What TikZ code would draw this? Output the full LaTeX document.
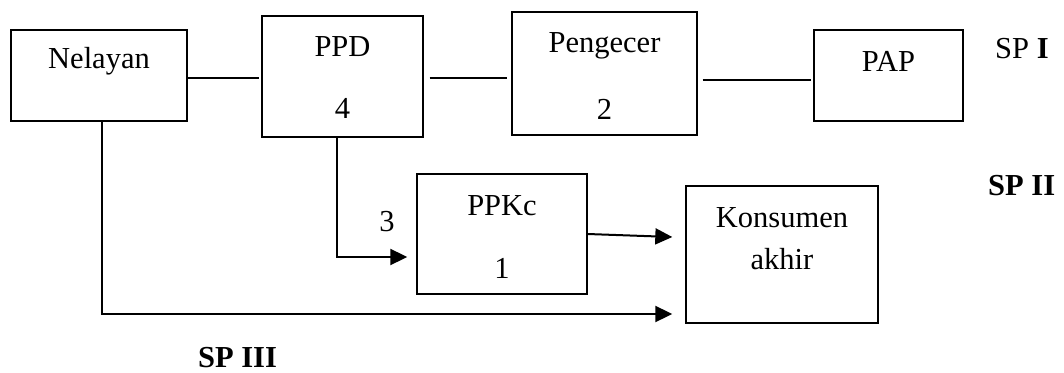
\documentclass[tikz,border=0pt]{standalone}
\usepackage{fontspec}
\setmainfont{Liberation Serif}
\usetikzlibrary{arrows.meta,calc}
\begin{document}
\begin{tikzpicture}[x=1pt,y=-1pt,
  box/.style={draw,line width=1.4pt,inner sep=0pt},
  lbl/.style={anchor=base,inner sep=0pt,font=\fontsize{30.5}{36}\selectfont},
  link/.style={line width=2pt},
  flow/.style={line width=2pt,-{Triangle[length=17pt,width=16pt]}}]
\useasboundingbox (0,0) rectangle (1064,372);

% boxes
\node[box,minimum width=176pt,minimum height=91pt]  (nel)  at (99,75.5)   {};
\node[box,minimum width=161pt,minimum height=121pt] (ppd)  at (342.5,76.5) {};
\node[box,minimum width=185pt,minimum height=123pt] (pen)  at (604.5,73.5) {};
\node[box,minimum width=149pt,minimum height=91pt]  (pap)  at (888.5,75.5) {};
\node[box,minimum width=170pt,minimum height=120pt] (ppkc) at (502,234)    {};
\node[box,minimum width=192pt,minimum height=137pt] (kons) at (782,254.5)  {};

% texts inside boxes
\node[lbl] (tnel)  at (99,68)     {Nelayan};
\node[lbl] (tppd)  at (342.5,56)  {PPD};
\node[lbl] (nppd)  at (342.5,118) {4};
\node[lbl] (tpen)  at (604.5,52)  {Pengecer};
\node[lbl] (npen)  at (604.5,119) {2};
\node[lbl] (tpap)  at (888.5,71)  {PAP};
\node[lbl] (tppkc) at (502,215)   {PPKc};
\node[lbl] (nppkc) at (502,278)   {1};
\node[lbl] (tk1)   at (782,227)   {Konsumen};
\node[lbl] (tk2)   at (782,269)   {akhir};
\node[lbl] (n3)    at (387,231)   {3};

% channel labels
\node[lbl,anchor=base west] (sp1) at (995,58)  {SP \textbf{I}};
\node[lbl,anchor=base west] (sp2) at (988,195) {\textbf{SP II}};
\node[lbl] (sp3) at (237.5,367) {\textbf{SP III}};

% channel I links
\draw[link] ($(nel.east)+(0,2.5)$) -- ($(ppd.west)+(-2,1.5)$);
\draw[link] ($(ppd.east)+(6,1.5)$) -- ($(pen.west)+(-4,4.5)$);
\draw[link] ($(pen.east)+(5,6.5)$) -- ($(pap.west)+(-2,4.5)$);

% channel II and III flows
\draw[flow] ($(ppd.south)+(-5.5,0)$) |- ($(ppkc.west)+(-9,23)$);
\draw[flow] (ppkc.east) -- ($(kons.west)+(-13,-17.5)$);
\draw[flow] ($(nel.south)+(3,0)$) |- ($(kons.west)+(-13,59.5)$);
\end{tikzpicture}
\end{document}
